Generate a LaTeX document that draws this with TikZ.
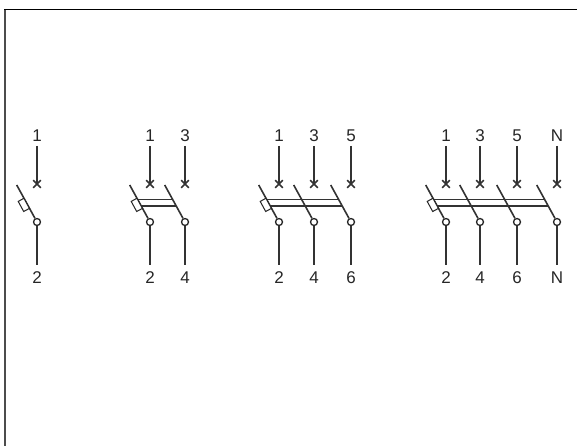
\documentclass[tikz,border=0pt]{standalone}
\usepackage{fontspec}
\setmainfont{Liberation Sans}
\usetikzlibrary{calc}
\newcommand{\polesym}[4]{%
  \node[lab] (#1t) at (#2,135.7) {#3};
  \node[lab] (#1b) at (#2,278) {#4};
  \coordinate (#1a) at (#2,146);
  \coordinate (#1x) at (#2,184);
  \coordinate (#1e) at (#2,265);
  \node[term] (#1c) at (#2,222) {};
  \coordinate (#1s) at ($(#1c)+(-20.3,-37)$);
  \coordinate (#1u) at ($(#1c)+(-12.2,-22.5)$);
  \coordinate (#1l) at ($(#1c)+(-8.6,-16)$);
  \draw[wire] (#1a) -- (#1x);
  \draw[wire] ($(#1x)+(-3.8,-3.8)$) -- ($(#1x)+(3.8,3.8)$);
  \draw[wire] ($(#1x)+(-3.8,3.8)$) -- ($(#1x)+(3.8,-3.8)$);
  \draw[wire] (#1c) -- (#1e);
  \draw[wire] (#1c) -- (#1s);
}
\newcommand{\coilsym}[1]{\node[coil] (#1k) at ($(#1c)+(-13.2,-17.1)$) {};}
\begin{document}
\begin{tikzpicture}[x=1pt,y=-1pt,
  wire/.style={draw=black!80,line width=1.6pt},
  tie/.style={draw=black!80,line width=1.2pt},
  term/.style={circle,draw=black!85,line width=1.3pt,minimum size=7pt,inner sep=0pt,fill=white},
  lab/.style={font=\fontsize{17}{19}\selectfont,text=black!85,inner sep=0pt,anchor=center},
  coil/.style={rectangle,draw=black!85,line width=1pt,fill=white,minimum width=11.5pt,minimum height=6.5pt,inner sep=0pt,rotate=-61.5}]
\useasboundingbox (0,0) rectangle (577,446);
\fill[white] (0,0) rectangle (577,446);
\draw[black!70,line width=1.8pt] (5,446) -- (5,9.5);
\draw[black,line width=1.8pt] (4.2,9.5) -- (577,9.5);
% unit 1
\polesym{a}{37}{1}{2}
\coilsym{a}
% unit 2
\polesym{b}{150}{1}{2}
\polesym{c}{185}{3}{4}
\draw[tie] (bu) -- (cu);
\draw[tie] (bl) -- (cl);
\coilsym{b}
% unit 3
\polesym{d}{279}{1}{2}
\polesym{e}{314}{3}{4}
\polesym{f}{351}{5}{6}
\draw[tie] (du) -- (fu);
\draw[tie] (dl) -- (fl);
\coilsym{d}
% unit 4
\polesym{g}{446}{1}{2}
\polesym{h}{480}{3}{4}
\polesym{i}{517}{5}{6}
\polesym{j}{557}{N}{N}
\draw[tie] (gu) -- (ju);
\draw[tie] (gl) -- (jl);
\coilsym{g}
\end{tikzpicture}
\end{document}
